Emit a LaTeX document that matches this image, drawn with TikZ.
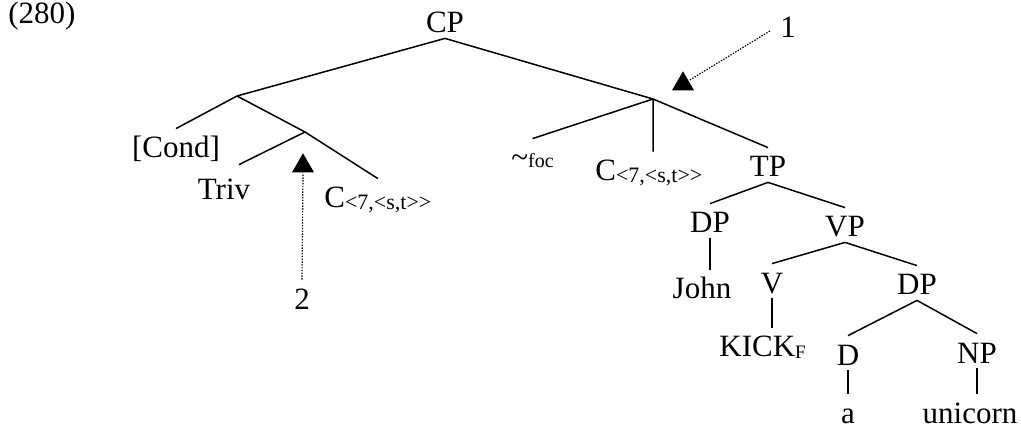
\documentclass[tikz,border=0pt]{standalone}
\usepackage{fontspec}
\setmainfont{Liberation Serif}
\usetikzlibrary{arrows.meta,shapes.geometric}
\tikzset{
  lbl/.style={inner xsep=0pt,inner ysep=2.5pt,text height=12pt,text depth=0pt,anchor=base},
  br/.style={line width=0.75pt},
  ptr/.style={line width=0.6pt,dash pattern=on 0.7pt off 0.7pt},
  head/.style={regular polygon,regular polygon sides=3,fill=black,inner sep=0pt,minimum size=12.7pt}
}
\newcommand{\lowsub}[2][11]{{\fontsize{#1}{#1}\selectfont\raisebox{-1pt}{#2}}}

\begin{document}
\begin{tikzpicture}[x=0.5pt,y=-0.5pt,font=\fontsize{15.5}{18}\selectfont]
  \useasboundingbox (0,0) rectangle (1021,432);
  \node[lbl,anchor=base west] (ex) at (8,24) {(280)};
  % tree labels
  \node[lbl] (cp) at (445,33) {CP};
  \node[lbl] (cond) at (176,158) {[Cond]};
  \node[lbl] (triv) at (224,200) {Triv};
  \node[lbl,anchor=base west] (cleft) at (324,208) {C\lowsub{<7,<s,t>{}>}};
  \node[lbl,anchor=base west] (foc) at (511,168) {\textasciitilde{\fontsize{10}{10}\selectfont foc}};
  \node[lbl,anchor=base west] (cmid) at (595,181) {C\lowsub{<7,<s,t>{}>}};
  \node[lbl] (tp) at (768,177) {TP};
  \node[lbl] (dpa) at (710,233) {DP};
  \node[lbl] (john) at (702,299) {John};
  \node[lbl] (vp) at (845,237) {VP};
  \node[lbl] (v) at (772,293) {V};
  \node[lbl,anchor=base west] (kick) at (719,357) {KICK\lowsub[9.5]{F}};
  \node[lbl] (dpb) at (917,295) {DP};
  \node[lbl] (d) at (848,365) {D};
  \node[lbl] (np) at (977,363) {NP};
  \node[lbl] (a) at (848,423) {a};
  \node[lbl] (unicorn) at (970,423) {unicorn};
  % unlabelled branching points
  \coordinate (j1) at (237,96);
  \coordinate (j2) at (653,99);
  \coordinate (j3) at (305,132);
  \draw[br] (cp.south) -- (j1) (cp.south) -- (j2);
  \draw[br] (j1) -- (cond.north) (j1) -- (j3);
  \draw[br] (j3) -- ([xshift=7.5pt,yshift=3pt]triv.north) (j3) -- (cleft.north);
  \draw[br] (j2) -- (foc.north) (j2) -- (j2 |- cmid.north) (j2) -- (tp.north);
  \draw[br] (tp.south) -- (dpa.north) (tp.south) -- (vp.north);
  \draw[br] (dpa.south) -- (dpa.south |- john.north);
  \draw[br] (vp.south) -- (v.north) (vp.south) -- (dpb.north);
  \draw[br] (v.south) -- (v.south |- kick.north);
  \draw[br] (dpb.south) -- (d.north) (dpb.south) -- (np.north);
  \draw[br] (d.south) -- (a.north);
  \draw[br] (np.south) -- (np.south |- unicorn.north);
  % pointers
  \node[lbl] (one) at (788,38) {1};
  \node[lbl] (two) at (302,309) {2};
  \node[head] (h1) at (683,84) {};
  \node[head] (h2) at (303,166) {};
  \draw[ptr] ([xshift=-5pt,yshift=-2.5pt]one.west) -- (h1.30);
  \draw[ptr] (two.north) -- (h2.south);
\end{tikzpicture}
\end{document}
